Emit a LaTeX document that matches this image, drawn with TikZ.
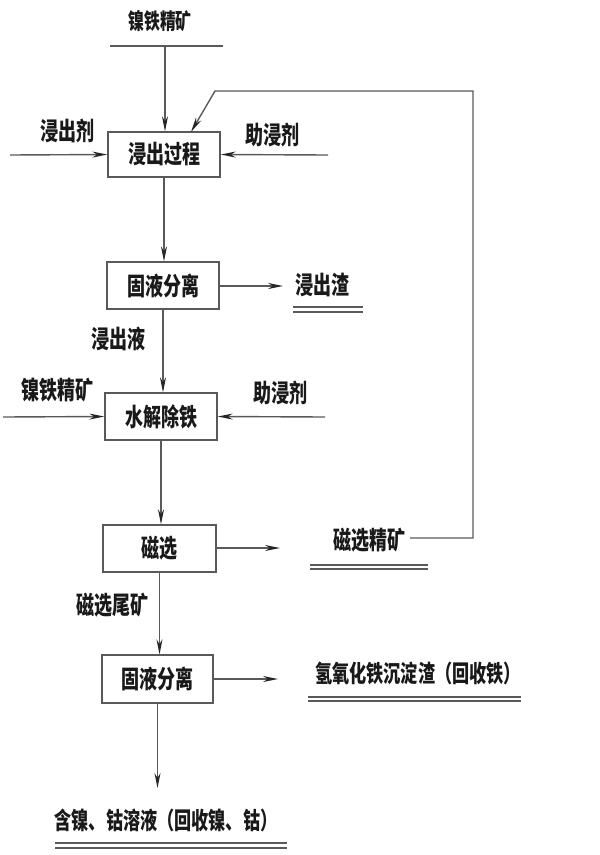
\documentclass[tikz,border=0pt]{standalone}
\usepackage{fontspec}
\setmainfont{Noto Sans CJK SC}[FakeStretch=0.72]
\usetikzlibrary{arrows.meta}
\definecolor{linec}{gray}{0.35}
\definecolor{txtc}{gray}{0.1}
\newcommand{\fsz}{\fontsize{25}{27}\selectfont\bfseries}
\newcommand{\fsm}{\fontsize{23.8}{26}\selectfont\bfseries}
\newcommand{\fst}{\fontsize{22}{24}\selectfont\bfseries}
\begin{document}
\begin{tikzpicture}[x=1pt,y=-1pt,
  box/.style={draw=linec, line width=1.4pt, minimum width=112pt, minimum height=46pt, inner sep=0pt, font=\fsz, text=txtc},
  lbl/.style={inner sep=0pt, font=\fsz, text=txtc},
  flow/.style={draw=linec, line width=1.4pt},
  arr/.style={flow, -{Stealth[length=15pt,width=6pt,color=black!85]}},
  dbl/.style={draw=linec, line width=1.1pt}
]
\useasboundingbox (0,0) rectangle (600,855);
% top feed
\node[lbl, font=\fst] (title) at (160,21) {镍铁精矿};
\coordinate (tl) at (110,46);
\coordinate (tr) at (223,46);
\coordinate (t1) at (165,46);
\draw[flow] (tl) -- (tr);
% boxes
\node[box, minimum height=45pt] (b1) at (164,154.5) {浸出过程};
\node[box, minimum height=47pt] (b2) at (163,285.5) {固液分离};
\node[box, minimum height=47pt] (b3) at (161,416.5) {水解除铁};
\node[box, minimum height=47pt, minimum width=113pt] (b4) at (159.5,548.5) {磁选};
\node[box, minimum height=48pt, minimum width=111pt] (b5) at (157.5,679) {固液分离};
\draw[arr] (t1) -- (t1 |- b1.north);
% leach inputs
\node[lbl] (l1) at (68,131) {浸出剂};
\coordinate (in1) at (10,155);
\draw[arr] (in1) -- (b1.west);
\node[lbl] (r1) at (272,135) {助浸剂};
\coordinate (in2) at (328,155);
\draw[arr] (in2) -- (b1.east);
% b1 -> b2
\draw[arr] (b1.south) -- (b1.south |- b2.north);
% residue
\coordinate (o2) at (283,286);
\draw[arr] (b2.east |- o2) -- (o2);
\node[lbl] (res) at (322,285) {浸出渣};
\coordinate (u2a) at (293,307);
\coordinate (u2b) at (363,307);
\coordinate (u2c) at (293,312);
\coordinate (u2d) at (363,312);
\draw[dbl] (u2a) -- (u2b);
\draw[dbl] (u2c) -- (u2d);
% b2 -> b3
\node[lbl] (liq) at (118,339) {浸出液};
\draw[arr] (b2.south) -- (b2.south |- b3.north);
% hydrolysis inputs
\node[lbl] (l3) at (57,390) {镍铁精矿};
\coordinate (in3) at (3,417);
\draw[arr] (in3) -- (b3.west);
\node[lbl] (r3) at (280,393) {助浸剂};
\coordinate (in4) at (325,417);
\draw[arr] (in4) -- (b3.east);
% b3 -> b4
\draw[arr] (b3.south) -- (b3.south |- b4.north);
% magnetic concentrate
\coordinate (o4) at (280,548);
\draw[arr] (b4.east |- o4) -- (o4);
\node[lbl] (mag) at (369,540) {磁选精矿};
\coordinate (u4a) at (310,565);
\coordinate (u4b) at (428,565);
\coordinate (u4c) at (310,569);
\coordinate (u4d) at (428,569);
\draw[dbl] (u4a) -- (u4b);
\draw[dbl] (u4c) -- (u4d);
% feedback
\coordinate (f0) at (410,538);
\coordinate (f1) at (473,538);
\coordinate (f2) at (473,91);
\coordinate (f3) at (215,91);
\coordinate (f4) at (191,132);
\draw[arr] (f0) -- (f1) -- (f2) -- (f3) -- (f4);
% b4 -> b5
\node[lbl] (tail) at (112,605) {磁选尾矿};
\draw[arr] (b4.south) -- (b4.south |- b5.north);
% iron hydroxide
\coordinate (o5) at (278,679);
\draw[arr] (b5.east |- o5) -- (o5);
\node[lbl, font=\fsm] (feoh) at (418,673) {氢氧化铁沉淀渣（回收铁）};
\coordinate (u5a) at (308,697);
\coordinate (u5b) at (521,697);
\coordinate (u5c) at (308,701);
\coordinate (u5d) at (521,701);
\draw[dbl] (u5a) -- (u5b);
\draw[dbl] (u5c) -- (u5d);
% final solution
\coordinate (o6) at (157.5,788);
\draw[arr] (b5.south) -- (o6);
\node[lbl, font=\fsm] (sol) at (166,820) {含镍、钴溶液（回收镍、钴）};
\coordinate (u6a) at (55,843);
\coordinate (u6b) at (287,843);
\coordinate (u6c) at (55,848);
\coordinate (u6d) at (287,848);
\draw[dbl] (u6a) -- (u6b);
\draw[dbl] (u6c) -- (u6d);
\end{tikzpicture}
\end{document}
